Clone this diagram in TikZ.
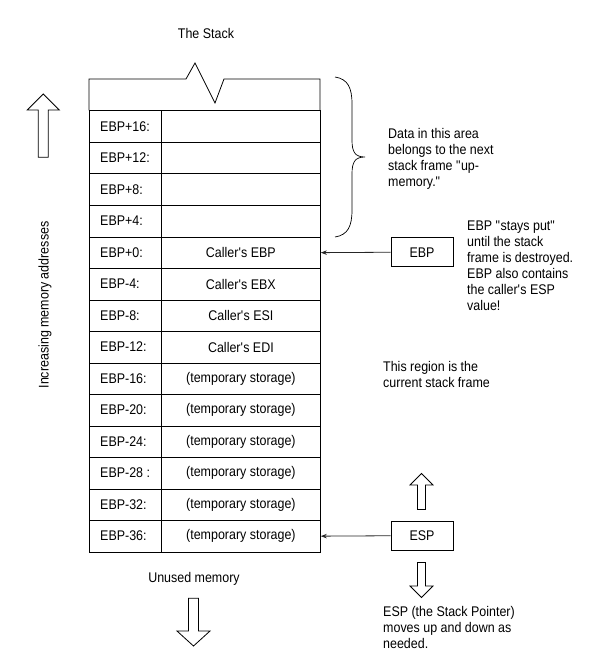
\documentclass[tikz,border=0pt]{standalone}
\usepackage{fontspec}
\setmainfont{Liberation Sans}[FakeStretch=0.89]
\usetikzlibrary{arrows.meta}
\begin{document}
\begin{tikzpicture}[x=1pt,y=-1pt,
  every node/.style={font=\fontsize{14}{16}\selectfont, inner sep=0pt},
  cell/.style={draw, line width=0.8pt, minimum height=31.5pt, anchor=north west},
  lcell/.style={cell, minimum width=72pt},
  rcell/.style={cell, minimum width=159pt},
  ptrbox/.style={draw, line width=0.8pt, minimum width=62pt, minimum height=29pt},
  note/.style={align=left, anchor=west},
  ptr/.style={draw=black!85, line width=0.8pt, -{Stealth[length=6pt,width=4.5pt]}},
  hollow/.style={draw, line width=0.8pt, line join=miter}
]
\useasboundingbox (0,0) rectangle (590,655);

\node (title) at (206,33.5) {The Stack};

% top row with zigzag
\draw[line width=0.8pt] (89,110.5) -- (89,79) -- (186,79) -- (195,63) -- (215,103) -- (224,79) -- (320,79) -- (320,110.5);

% table rows
\foreach [count=\i from 0] \lab/\val in {
  EBP+16:/, EBP+12:/, EBP+8:/, EBP+4:/,
  EBP+0:/Caller\textquotesingle s EBP, EBP-4:/Caller\textquotesingle s EBX,
  EBP-8:/Caller\textquotesingle s ESI, EBP-12:/Caller\textquotesingle s EDI,
  EBP-16:/(temporary storage), EBP-20:/(temporary storage),
  EBP-24:/(temporary storage), EBP-28 :/(temporary storage),
  EBP-32:/(temporary storage), EBP-36:/(temporary storage)} {
  \node[lcell] (L\i) at (89,{110.5+31.5*\i}) {};
  \node[rcell] (R\i) at (161,{110.5+31.5*\i}) {\val};
  \node[anchor=west] (T\i) at (100,{126.25+31.5*\i}) {\lab};
}

% brace
\draw[line width=0.7pt] (335,77) .. controls (348,79) and (352,88) .. (352,104)
  -- (352,140) .. controls (352,152) and (355,157) .. (365,157)
  .. controls (355,157) and (352,162) .. (352,174)
  -- (352,210) .. controls (352,226) and (348,235) .. (335,237);

\node[note] (datanote) at (388,158.5) {Data in this area\\belongs to the next\\stack frame \textquotedbl up-\\memory.\textquotedbl};

% EBP pointer
\node[ptrbox] (ebp) at (422,252.25) {EBP};
\draw[ptr] (ebp.west) -- (R4.east);
\node[note] (ebpnote) at (467,265.5) {EBP \textquotedbl stays put\textquotedbl\\until the stack\\frame is destroyed.\\EBP also contains\\the caller\textquotesingle s ESP\\value!};

\node[note] (regionnote) at (383,374) {This region is the\\current stack frame};

% ESP pointer
\node[ptrbox] (esp) at (422,535.75) {ESP};
\draw[ptr] (esp.west) -- (R13.east);
\node[note] (espnote) at (383,627) {ESP (the Stack Pointer)\\moves up and down as\\needed.};

% hollow arrows near ESP
\draw[hollow] (421.5,473.5) -- (433,485) -- (425.5,485) -- (425.5,509.5) -- (417.5,509.5) -- (417.5,485) -- (410,485) -- cycle;
\draw[hollow] (421.5,597.5) -- (433,586) -- (425.5,586) -- (425.5,562.5) -- (417.5,562.5) -- (417.5,586) -- (410,586) -- cycle;

% left up arrow and label
\draw[hollow] (43.3,94) -- (59.3,110) -- (48.3,110) -- (48.3,157.3) -- (38.3,157.3) -- (38.3,110) -- (27.3,110) -- cycle;
\node[rotate=90] (incr) at (45,305) {Increasing memory addresses};

% unused memory
\node (unused) at (194,579) {Unused memory};
\draw[hollow] (193.5,646) -- (210,631) -- (198.5,631) -- (198.5,598.3) -- (188.5,598.3) -- (188.5,631) -- (177,631) -- cycle;
\end{tikzpicture}
\end{document}
